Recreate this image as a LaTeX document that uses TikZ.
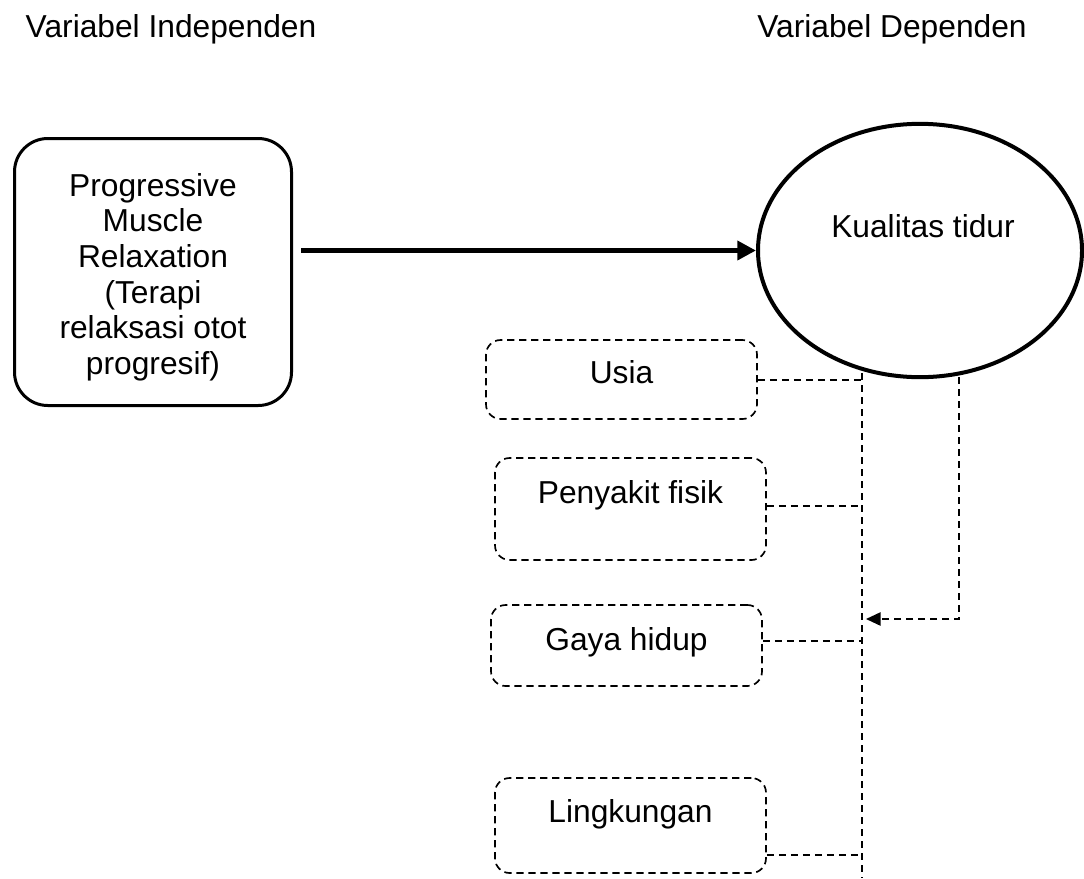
\documentclass[tikz,border=0pt]{standalone}
\usepackage{fontspec}
\setmainfont{Liberation Sans}
\usetikzlibrary{arrows.meta,shapes.geometric}
\begin{document}
\begin{tikzpicture}[x=0.75pt,y=-0.75pt,
  font=\fontsize{23.8}{26.7}\selectfont,
  solidbox/.style={draw, line width=2.25pt, rounded corners=25pt, minimum width=207.75pt, minimum height=200.25pt, inner sep=0pt, align=center},
  ellip/.style={draw, ellipse, line width=3pt, minimum width=243pt, minimum height=190pt, inner sep=0pt},
  dbox/.style={draw, line width=1.25pt, dash pattern=on 5.5pt off 3.5pt, rounded corners=11pt, minimum width=203.25pt, inner sep=0pt},
  dline/.style={line width=1.25pt, dash pattern=on 5.5pt off 3.5pt},
  lbl/.style={anchor=base, inner sep=0pt},
  mainarrow/.style={line width=4pt, -{Triangle[length=14pt,width=14pt]}},
  fbarrow/.style={dline, -{Triangle[length=11pt,width=10pt]}}
]
\useasboundingbox (0,0) rectangle (1084,878);

% headers
\node[lbl] (hdrI) at (171,37) {Variabel Independen};
\node[lbl] (hdrD) at (892,37) {Variabel Dependen};

% main nodes
\node[solidbox] (lb) at (153,272) {};
\node[align=center, inner sep=0pt] (lbT) at (153,277) {Progressive\\Muscle\\Relaxation\\(Terapi\\relaksasi otot\\progresif)};
\node[ellip] (kt) at (920,250.5) {};
\node[lbl] (ktT) at (923,237) {Kualitas tidur};

% dashed factor boxes
\node[dbox, minimum height=59.25pt] (usia) at (621.5,379.5) {};
\node[lbl] (usiaT) at (621.5,383) {Usia};
\node[dbox, minimum height=76.5pt] (pf) at (630.5,509) {};
\node[lbl] (pfT) at (630.5,503) {Penyakit fisik};
\node[dbox, minimum height=60.75pt] (gh) at (626.5,645.5) {};
\node[lbl] (ghT) at (626.5,650) {Gaya hidup};
\node[dbox, minimum height=71.25pt] (lk) at (630.5,825.5) {};
\node[lbl] (lkT) at (630.5,822) {Lingkungan};

% main arrow
\draw[mainarrow, shorten <=6pt] (lb.east |- kt.west) -- (kt.west);

% dashed connectors
\coordinate (vtop) at (862,373);
\coordinate (vbot) at (862,878);
\draw[dline] (vtop) -- (vbot);
\draw[dline] ([yshift=-0.4pt]usia.east) -- ([yshift=-0.4pt]usia.east -| vtop);
\draw[dline] ([yshift=2.25pt]pf.east) -- ([yshift=2.25pt]pf.east -| vtop);
\draw[dline] ([yshift=3.4pt]gh.east) -- ([yshift=3.4pt]gh.east -| vtop);
\draw[dline] ([yshift=-22pt]lk.east) -- ([yshift=-22pt]lk.east -| vtop);

\coordinate (rtop) at (959,377);
\coordinate (rcorner) at (959,619);
\draw[fbarrow, shorten >=3pt] (rtop) -- (rcorner) -- (rcorner -| vtop);
\end{tikzpicture}
\end{document}
